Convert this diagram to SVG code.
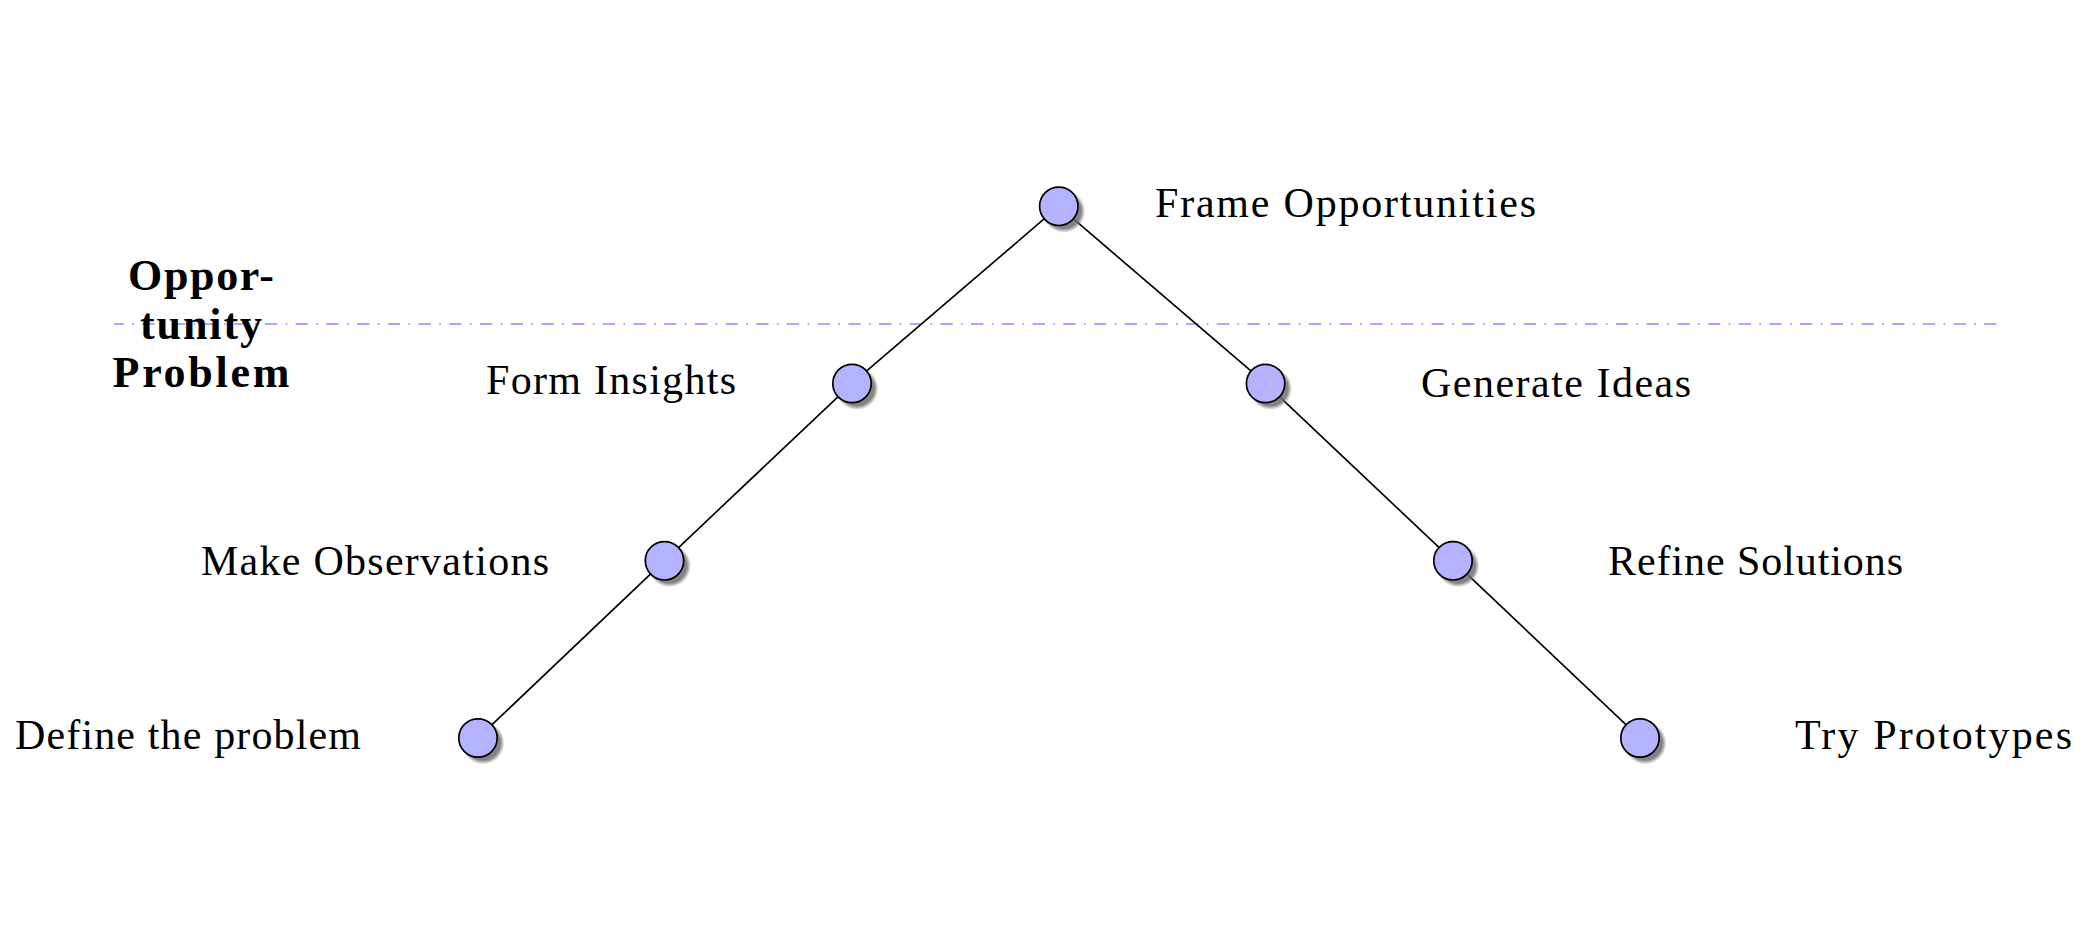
<svg xmlns="http://www.w3.org/2000/svg" width="2089" height="928" viewBox="0 0 2089 928">
  <style>
    .lbl { font-family: "Liberation Serif", "Times New Roman", serif; font-size: 42px; fill: #000; }
    .bold { font-weight: bold; text-anchor: middle; font-size: 44px; }
    .node { fill: #b3b3ff; stroke: #000; stroke-width: 1.7; }
    .shadow { fill: url(#shadowGrad); }
    .edge { stroke: #000; stroke-width: 1.66; fill: none; stroke-linecap: round; }
    .divider { stroke: #a8a8ff; stroke-width: 1.8; fill: none; stroke-dasharray: 12.4 8.3 1.7 8.3; stroke-dashoffset: 2.5; }
  </style>
  <defs>
    <radialGradient id="shadowGrad" cx="0.5" cy="0.5" r="0.5">
      <stop offset="0" stop-color="#6e6e6e" stop-opacity="0.85"/>
      <stop offset="0.8" stop-color="#6e6e6e" stop-opacity="0.85"/>
      <stop offset="1" stop-color="#6e6e6e" stop-opacity="0"/>
    </radialGradient>
  </defs>
  <rect width="2089" height="928" fill="#ffffff"/>

  <g id="divider-group">
    <line class="divider" x1="114" y1="324" x2="2001" y2="324"/>
    <text class="lbl bold" x="201" y="290" textLength="146">Oppor-</text>
    <text class="lbl bold" x="201" y="338.5" textLength="122">tunity</text>
    <text class="lbl bold" x="201" y="387" textLength="177">Problem</text>
  </g>

  <g id="connectors">
    <line class="edge" x1="491.8" y1="724.9" x2="650.7" y2="573.9"/>
    <line class="edge" x1="678.3" y1="547.8" x2="838.2" y2="396.6"/>
    <line class="edge" x1="866.4" y1="371.1" x2="1044.4" y2="218.7"/>
    <line class="edge" x1="1073.2" y1="218.7" x2="1251.2" y2="371.1"/>
    <line class="edge" x1="1279.4" y1="396.6" x2="1439.2" y2="547.7"/>
    <line class="edge" x1="1466.8" y1="573.9" x2="1626.2" y2="724.9"/>
  </g>

  <g id="node-frame">
    <circle class="shadow" cx="1063.8" cy="211.3" r="21.5"/>
    <circle class="node" cx="1058.8" cy="206.3" r="19.2"/>
    <text class="lbl" x="1155" y="217" textLength="381">Frame Opportunities</text>
  </g>
  <g id="node-form">
    <circle class="shadow" cx="857" cy="388.5" r="21.5"/>
    <circle class="node" cx="852" cy="383.5" r="19.2"/>
    <text class="lbl" x="486" y="393.5" textLength="250">Form Insights</text>
  </g>
  <g id="node-generate">
    <circle class="shadow" cx="1270.6" cy="388.5" r="21.5"/>
    <circle class="node" cx="1265.6" cy="383.5" r="19.2"/>
    <text class="lbl" x="1421" y="397" textLength="270">Generate Ideas</text>
  </g>
  <g id="node-make">
    <circle class="shadow" cx="669.5" cy="565.8" r="21.5"/>
    <circle class="node" cx="664.5" cy="560.8" r="19.2"/>
    <text class="lbl" x="201" y="574.5" textLength="348">Make Observations</text>
  </g>
  <g id="node-refine">
    <circle class="shadow" cx="1458" cy="565.8" r="21.5"/>
    <circle class="node" cx="1453" cy="560.8" r="19.2"/>
    <text class="lbl" x="1608" y="574.5" textLength="295">Refine Solutions</text>
  </g>
  <g id="node-define">
    <circle class="shadow" cx="483" cy="743" r="21.5"/>
    <circle class="node" cx="478" cy="738" r="19.2"/>
    <text class="lbl" x="15" y="748.5" textLength="346">Define the problem</text>
  </g>
  <g id="node-try">
    <circle class="shadow" cx="1645" cy="743" r="21.5"/>
    <circle class="node" cx="1640" cy="738" r="19.2"/>
    <text class="lbl" x="1795" y="748.5" textLength="277">Try Prototypes</text>
  </g>
</svg>
